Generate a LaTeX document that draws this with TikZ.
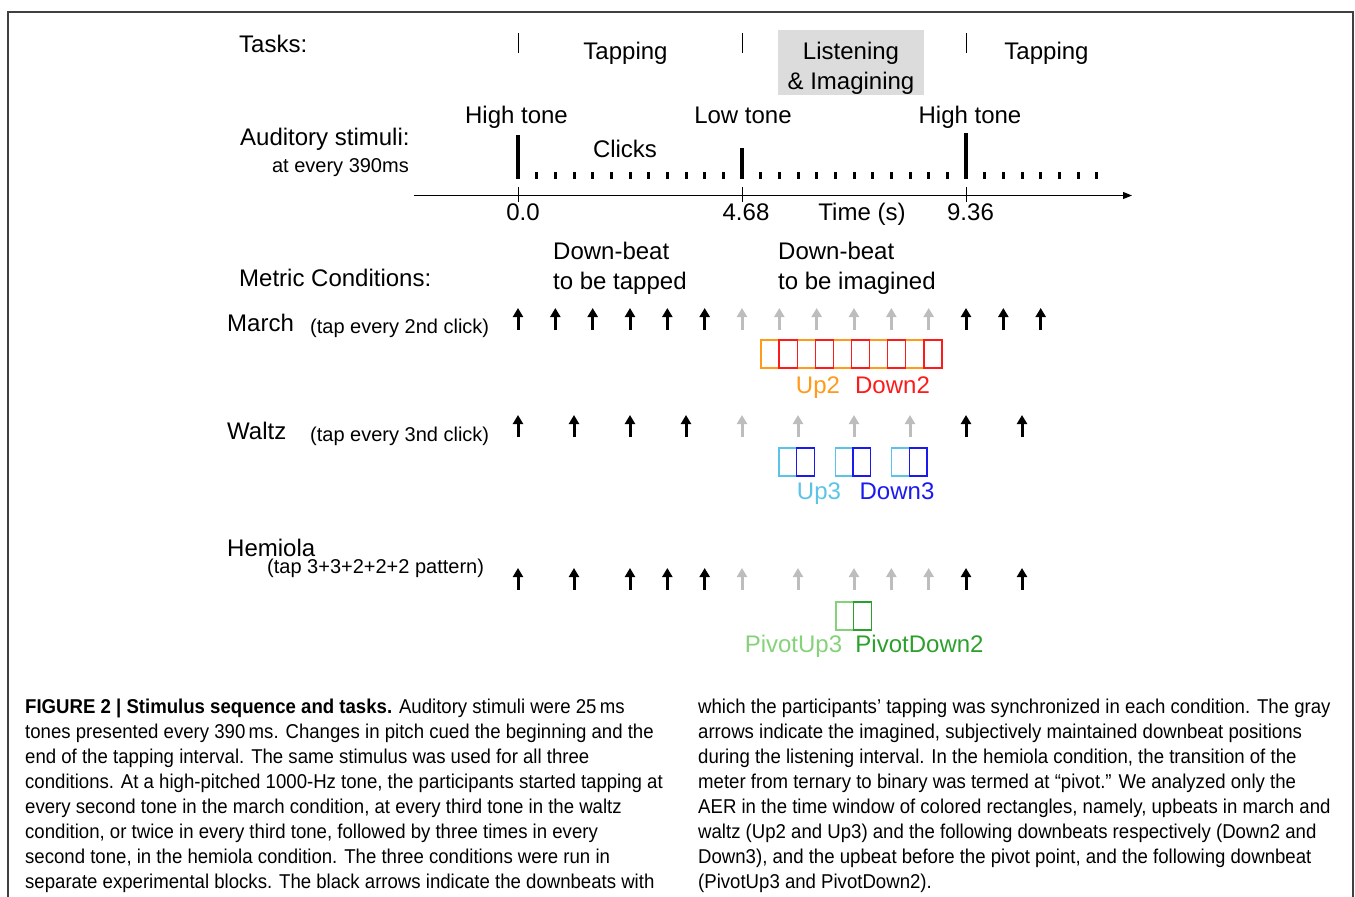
\documentclass[tikz,border=0pt]{standalone}
\usepackage{fontspec}
\setmainfont{Liberation Sans}
\newfontfamily\capfont[FakeStretch=0.93]{Liberation Sans}
\usetikzlibrary{arrows.meta}
\definecolor{upmarch}{HTML}{FF9A1A}
\definecolor{downmarch}{HTML}{FF1A1A}
\definecolor{upwaltz}{HTML}{5BC4E6}
\definecolor{downwaltz}{HTML}{1A1AF0}
\definecolor{uppivot}{HTML}{86D27A}
\definecolor{downpivot}{HTML}{2CA02C}
\definecolor{imagined}{HTML}{BDBDBD}
\definecolor{boxgray}{HTML}{DCDCDC}
\newcommand{\clk}[1]{518+18.667*#1}
\begin{document}
\begin{tikzpicture}
[x=1pt,y=-1pt,
  labeltext/.style={font=\fontsize{24}{28}\selectfont,inner sep=0pt,anchor=base},%
  smalltext/.style={font=\fontsize{20}{24}\selectfont,inner sep=0pt,anchor=base},%
  captext/.style={font=\capfont\fontsize{20}{25}\selectfont,inner sep=0pt,anchor=base west},%
  clickmark/.style={line width=3pt},%
  tonemark/.style={line width=3.2pt},%
  axistick/.style={line width=0.8pt},%
  beatarrow/.style={line width=3pt,-{Triangle[width=10pt,length=9pt]}},%
  tapped/.style={beatarrow,black},%
  imaged/.style={beatarrow,imagined},%
  window/.style={line width=1.3pt}]
\useasboundingbox (0,0) rectangle (1355,897);
\draw[line width=1.2pt,black!75] (8,897) -- (8,12) -- (1353,12) -- (1353,897);
%% tasks
\node[labeltext,anchor=base west] (tasks) at (239,52) {Tasks:};
\fill[boxgray] (778,30) rectangle (924,95);
\foreach \x in {518,742,966} {
  \draw[axistick] (\x,33) -- (\x,53);
}
\node[labeltext] (tapA) at (625.5,59) {Tapping};
\node[labeltext] (listen) at (851,59) {Listening};
\node[labeltext] (imagine) at (851,89) {\& Imagining};
\node[labeltext] (tapB) at (1046.5,59) {Tapping};
%% auditory stimuli
\node[labeltext,anchor=base west] (stim) at (240,145) {Auditory stimuli:};
\node[smalltext,anchor=base east] (every) at (409,172) {at every 390ms};
\node[labeltext] (highA) at (516.5,123) {High tone};
\node[labeltext] (low) at (743,123) {Low tone};
\node[labeltext] (highB) at (970,123) {High tone};
\node[labeltext] (clicks) at (625,157) {Clicks};
\foreach \k in {1,...,11,13,14,...,23,25,26,...,31} {
  \draw[clickmark] ({\clk{\k}},172) -- ++(0,7);
}
\draw[tonemark] (518,135) -- (518,179);
\draw[tonemark] (742,148) -- (742,179);
\draw[tonemark] (966,133) -- (966,179);
%% time axis
\coordinate (axisstart) at (414,195.5);
\coordinate (axisend) at (1132,195.5);
\draw[line width=1pt,-{Triangle[width=7pt,length=9pt]}] (axisstart) -- (axisend);
\foreach \x in {518,742,966} {
  \draw[axistick] (\x,187) -- (\x,202);
}
\node[labeltext] (tzero) at (523,220) {0.0};
\node[labeltext] (tlow) at (746,220) {4.68};
\node[labeltext] (tname) at (862,220) {Time (s)};
\node[labeltext] (thigh) at (970.5,220) {9.36};
%% metric conditions
\node[labeltext,anchor=base west] (metric) at (239,286) {Metric Conditions:};
\node[labeltext,anchor=base west] (downA) at (553,259) {Down-beat};
\node[labeltext,anchor=base west] (downAA) at (553,289) {to be tapped};
\node[labeltext,anchor=base west] (downB) at (778,259) {Down-beat};
\node[labeltext,anchor=base west] (downBB) at (778,289) {to be imagined};
%% march
\node[labeltext,anchor=base west] (march) at (227,331) {March};
\node[smalltext,anchor=base west] (marchtap) at (310,333) {(tap every 2nd click)};
\foreach \k in {0,2,4,6,8,10,24,26,28} {
  \draw[tapped] ({\clk{\k}},330) -- ++(0,-22);
}
\foreach \k in {12,14,...,22} {
  \draw[imaged] ({\clk{\k}},330) -- ++(0,-22);
}
\foreach \i in {0,...,4} {
  \draw[window,upmarch] ({761+36.2*\i},340) rectangle ++(18.1,28);
}
\foreach \i in {0,...,4} {
  \draw[window,downmarch] ({779.1+36.2*\i},340) rectangle ++(18.1,28);
}
\node[labeltext,upmarch] (uptwo) at (818,393) {Up2};
\node[labeltext,downmarch] (downtwo) at (892.5,393) {Down2};
%% waltz
\node[labeltext,anchor=base west] (waltz) at (227,439) {Waltz};
\node[smalltext,anchor=base west] (waltztap) at (310,441) {(tap every 3nd click)};
\foreach \k in {0,3,6,9,24,27} {
  \draw[tapped] ({\clk{\k}},437) -- ++(0,-22);
}
\foreach \k in {12,15,18,21} {
  \draw[imaged] ({\clk{\k}},437) -- ++(0,-22);
}
\foreach \i in {0,1,2} {
  \draw[window,upwaltz] ({779+56.3*\i},448) rectangle ++(17.7,28);
  \draw[window,downwaltz] ({796.7+56.3*\i},448) rectangle ++(17.7,28);
}
\node[labeltext,upwaltz] (upthree) at (819,499) {Up3};
\node[labeltext,downwaltz] (downthree) at (897,499) {Down3};
%% hemiola
\node[labeltext,anchor=base west] (hemiola) at (227,556) {Hemiola};
\node[smalltext,anchor=base west] (hemiolatap) at (267,573) {(tap 3+3+2+2+2 pattern)};
\foreach \k in {0,3,6,8,10,24,27} {
  \draw[tapped] ({\clk{\k}},590) -- ++(0,-22);
}
\foreach \k in {12,15,18,20,22} {
  \draw[imaged] ({\clk{\k}},590) -- ++(0,-22);
}
\draw[window,uppivot] (836,602) rectangle ++(17.7,28);
\draw[window,downpivot] (853.7,602) rectangle ++(17.7,28);
\node[labeltext,uppivot] (pivotup) at (793.5,652) {PivotUp3};
\node[labeltext,downpivot] (pivotdown) at (919.5,652) {PivotDown2};
%% caption
\foreach \txt [count=\i] in {
  {\textbf{FIGURE 2 | Stimulus sequence and tasks.} Auditory stimuli were 25\,ms},
  {tones presented every 390\,ms. Changes in pitch cued the beginning and the},
  {end of the tapping interval. The same stimulus was used for all three},
  {conditions. At a high-pitched 1000-Hz tone, the participants started tapping at},
  {every second tone in the march condition, at every third tone in the waltz},
  {condition, or twice in every third tone, followed by three times in every},
  {second tone, in the hemiola condition. The three conditions were run in},
  {separate experimental blocks. The black arrows indicate the downbeats with}} {
  \node[captext] (capL\i) at (25,{688+25*\i}) {\txt};
}
\foreach \txt [count=\i] in {
  {which the participants’ tapping was synchronized in each condition. The gray},
  {arrows indicate the imagined, subjectively maintained downbeat positions},
  {during the listening interval. In the hemiola condition, the transition of the},
  {meter from ternary to binary was termed at “pivot.” We analyzed only the},
  {AER in the time window of colored rectangles, namely, upbeats in march and},
  {waltz (Up2 and Up3) and the following downbeats respectively (Down2 and},
  {Down3), and the upbeat before the pivot point, and the following downbeat},
  {(PivotUp3 and PivotDown2).}} {
  \node[captext] (capR\i) at (698,{688+25*\i}) {\txt};
}
\end{tikzpicture}
\end{document}
